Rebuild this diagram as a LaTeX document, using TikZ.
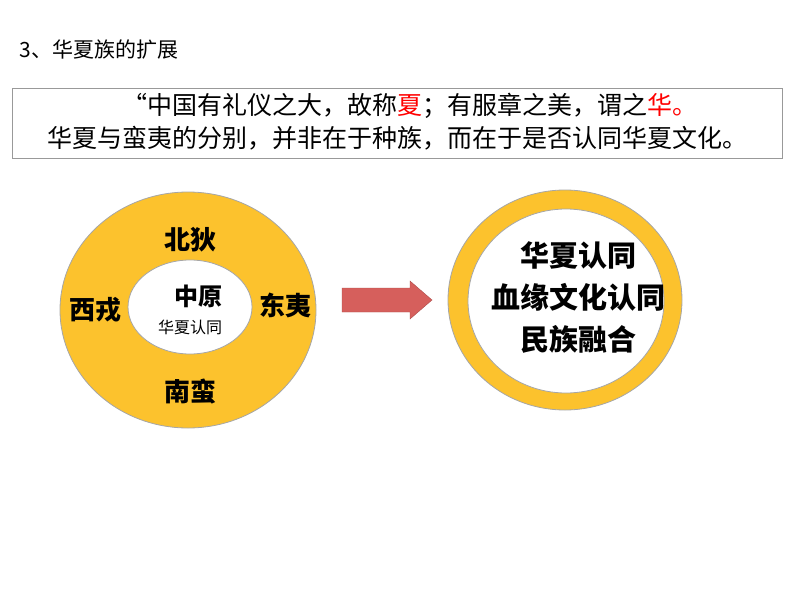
\documentclass[tikz,border=0pt]{standalone}
\usepackage{fontspec}
\setmainfont{Noto Sans CJK SC}
\usetikzlibrary{shapes.arrows,shapes.geometric}
\definecolor{gold}{HTML}{FCC22D}
\definecolor{arr}{HTML}{D65F5C}
\tikzset{
 ring/.style={ellipse,draw=gray!70,line width=0.8pt,fill=gold,inner sep=0pt},
 hole/.style={ellipse,draw=gray!70,line width=0.8pt,fill=white,inner sep=0pt},
 big/.style={font=\fontsize{26}{28}\selectfont\bfseries},
 rbig/.style={font=\fontsize{29}{42}\selectfont\bfseries,align=center}
}
\begin{document}
\begin{tikzpicture}[x=1pt,y=-1pt]
\useasboundingbox (0,0) rectangle (794,596);
\node[anchor=west,font=\fontsize{21}{24}\selectfont] (title) at (16,50) {3、华夏族的扩展};
\node[draw=gray!80,line width=0.8pt,minimum width=770pt,minimum height=70pt] (box) at (397,123) {};
\node[font=\fontsize{25}{28}\selectfont] (l1) at (410,106) {“中国有礼仪之大，故称\textcolor{red}{夏}；有服章之美，谓之\textcolor{red}{华。}};
\node[font=\fontsize{25}{28}\selectfont] (l2) at (397,138) {华夏与蛮夷的分别，并非在于种族，而在于是否认同华夏文化。};
\node[ring,minimum width=256pt,minimum height=236pt] (outer) at (188,310) {};
\node[hole,minimum width=124pt,minimum height=94pt] (inner) at (190,307) {};
\node[big] (n) at (190,240) {北狄};
\node[big] (w) at (95,310) {西戎};
\node[big] (e) at (285,305) {东夷};
\node[big] (s) at (190,392) {南蛮};
\node[font=\fontsize{24}{26}\selectfont\bfseries] (zy) at (198,296) {中原};
\node[font=\fontsize{16}{18}\selectfont] (hx) at (190,327) {华夏认同};
\draw[fill=arr,draw=arr!80!black,line width=0.4pt] (342,288) -- (410,288) -- (410,281) -- (432,300) -- (410,319) -- (410,312) -- (342,312) -- cycle;
\node[ring,minimum width=234pt,minimum height=220pt] (router) at (565,300) {};
\node[hole,minimum width=196pt,minimum height=184pt] (rinner) at (566,301) {};
\node[rbig] (r) at (578,298) {华夏认同\\血缘文化认同\\民族融合};
\end{tikzpicture}
\end{document}
